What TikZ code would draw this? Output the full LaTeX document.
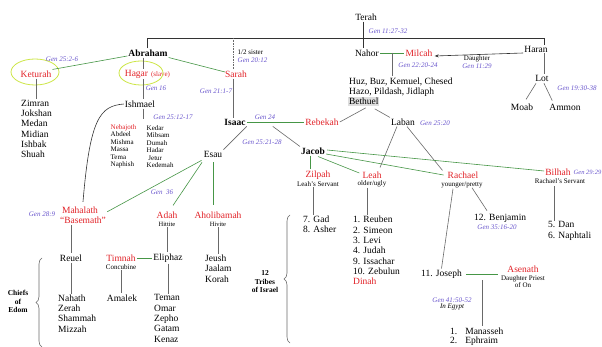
\documentclass[tikz,border=0pt]{standalone}
\usepackage{fontspec}
\setmainfont{Liberation Serif}
\usetikzlibrary{calc,decorations.pathreplacing,arrows.meta}
\definecolor{nred}{RGB}{226,34,40}
\definecolor{gpur}{RGB}{105,85,205}
\definecolor{lgreen}{RGB}{70,150,70}
\definecolor{lgray}{RGB}{105,105,105}
\definecolor{hyel}{RGB}{205,230,70}
\begin{document}
\begin{tikzpicture}[x=1pt,y=-1pt,
 nm/.style={font=\fontsize{9.5}{10.3}\selectfont, inner sep=1pt},
 bnm/.style={font=\fontsize{9.5}{10.3}\selectfont\bfseries, inner sep=1pt},
 rnm/.style={nm, text=nred},
 gen/.style={font=\fontsize{7}{7.5}\selectfont\itshape, text=gpur, inner sep=0.5pt},
 sm/.style={font=\fontsize{7}{7.5}\selectfont, inner sep=0.5pt},
 lst/.style={nm, align=left, anchor=west},
 slst/.style={sm, align=left, anchor=west},
 gl/.style={draw=lgreen, line width=0.6pt},
 gy/.style={draw=lgray, line width=0.6pt},
 bk/.style={draw=black!80, line width=0.6pt},
 brc/.style={draw=lgray, line width=0.6pt, decorate, decoration={brace, amplitude=6pt}},
 hl/.style={draw=hyel, line width=0.8pt},
 lbl/.style={font=\fontsize{7.5}{8.5}\selectfont\bfseries, align=center, inner sep=0.5pt}
]
\useasboundingbox (0,0) rectangle (602,347);
\fill[white] (0,0) rectangle (602,347);

% ---------- top generation
\node[nm] (terah) at (366,17) {Terah};
\node[gen, anchor=west] (g1) at (368,31) {Gen 11:27-32};
\node[bnm] (abr) at (148,53) {Abraham};
\node[nm] (nahor) at (367,53) {Nahor};
\node[rnm] (milcah) at (419,53) {Milcah};
\node[nm] (haran) at (536,49) {Haran};
\coordinate (tl) at (147,38);
\coordinate (tr) at (544,38);
\coordinate (sd) at (233,38);
\draw[bk] (abr.north -| tl) -- (tl) -- (tr) -- (haran.north -| tr);
\draw[bk] ($(terah.south)+(-3,0)$) coordinate (tv) -- (tv |- nahor.north);

% ---------- Abraham's wives
\node[rnm] (ket) at (36,74) {Keturah};
\node[rnm] (hagar) at (136.5,74) {Hagar};
\node[sm, text=nred, anchor=west] (slave) at ($(hagar.east)+(1,1)$) {(slave)};
\node[rnm] (sarah) at (236,74) {Sarah};
\draw[hl] (35,72) ellipse [x radius=24pt, y radius=13pt];
\draw[hl] (141,73) ellipse [x radius=22pt, y radius=12pt];
\node[gen] (g2) at (62,59) {Gen 25:2-6};
\node[gen] (g16) at (156,88) {Gen 16};
\node[sm, anchor=west] (half) at (237,52) {1/2 sister};
\node[gen, anchor=west] (g2012) at (237,60) {Gen 20:12};
\node[gen] (g21) at (216,91) {Gen 21:1-7};
\draw[gl] ($(abr.west)+(0,3)$) -- (ket.north east);
\draw[gl] (abr.south east) -- ($(sarah.west)+(1,-2)$);
\draw[gy, densely dotted] (sd) -- (sd |- sarah.north);

% ---------- Keturah's sons
\node[lst] (zim) at (20,129) {Zimran\\Jokshan\\Medan\\Midian\\Ishbak\\Shuah};
\draw[gy] (ket.south) -- (ket.south |- zim.north);

% ---------- Ishmael
\node[nm] (ish) at (140,104) {Ishmael};
\draw[gy] ($(abr.south)+(-5,0)$) coordinate (av) -- (av |- hagar.north);
\draw[gy] (av |- hagar.south) -- (av |- ish.north);
\draw[gy] (av |- ish.south) -- ++(0,10);
\node[gen] (g2512) at (173,117) {Gen 25:12-17};
\node[slst] (ishs1) at (110,146.5) {{\color{nred}Nebajoth}\\Abdeel\\Mishma\\Massa\\Tema\\Naphish};
\node[slst] (ishs2) at (146,146.5) {Kedar\\Mibsam\\Dumah\\Hadar\\\ Jetur\\Kedemah};

% ---------- Mahalath
\node[nm, text=nred, align=center] (mah) at (80,215.5) {Mahalath\\\hspace*{6pt}“Basemath”};
\node[gen] (g289) at (42,214) {Gen 28:9};
\draw[bk] (ish.west) .. controls (100,106) and (90,118) .. ($(mah.north)+(3,-4)$);

% ---------- Isaac
\node[bnm] (isaac) at (235,122) {Isaac};
\node[rnm] (reb) at (322,122) {Rebekah};
\node[gen] (g24) at (265,117) {Gen 24};
\draw[gy] (sd |- sarah.south) -- (sd |- isaac.north);
\draw[gl] (isaac.east) -- (reb.west);
\node[nm] (esau) at (213,154) {Esau};
\node[bnm] (jacob) at (313,151) {Jacob};
\node[gen] (g2521) at (262,142) {Gen 25:21-28};
\draw[gy] (isaac.south east) -- (esau.north east);
\draw[gy] ($(isaac.south east)+(26,0)$) -- (jacob.north west);

% ---------- Nahor's line
\node[lst] (huz) at (348,87) {Huz, Buz, Kemuel, Chesed\\Hazo, Pildash, Jidlaph};
\node[nm, anchor=west, fill=black!13, inner sep=0.8pt] (bet) at (348,101.5) {Bethuel};
\node[gen] (g2220) at (418,65) {Gen 22:20-24};
\draw[gl] (nahor.east) -- (milcah.west);
\coordinate (nm) at ($(nahor.east)!0.5!(milcah.west)$);
\draw[gy] (nm) -- (nm |- huz.north);
\draw[bk, -{Stealth[length=4pt,width=3pt]}] ($(haran.west)+(0,4)$) -- ($(milcah.east)+(1,3)$);
\node[sm] (dau) at (477,59) {Daughter};
\node[gen] (g1129) at (477,66) {Gen 11:29};
\node[nm] (lot) at (542,78) {Lot};
\node[nm] (moab) at (522,107) {Moab};
\node[nm] (ammon) at (565,107) {Ammon};
\node[gen] (g1930) at (577,88) {Gen 19:30-38};
\draw[gy] (tr |- haran.south) -- (tr |- lot.north);
\draw[gy] ($(lot.south)+(-6,1)$) -- ($(moab.north)+(4,-3)$);
\draw[gy] ($(lot.south)+(2,1)$) -- ($(ammon.north west)+(4,-2)$);
\node[nm] (laban) at (403,122) {Laban};
\node[gen] (g2520) at (435,123) {Gen 25:20};
\draw[gy] ($(bet.south)+(2,2)$) -- (reb.east);
\draw[gy] ($(bet.south)+(11,3)$) -- (laban.north west);

% ---------- Jacob's wives
\node[rnm] (zil) at (318,175) {Zilpah};
\node[sm] (lsv) at (318,184) {Leah's Servant};
\node[rnm] (leah) at (372,175) {Leah};
\node[sm] (oug) at (372,184) {older/ugly};
\node[rnm] (rach) at (463,175) {Rachael};
\node[sm] (ysp) at (462,185) {younger/pretty};
\node[rnm] (bil) at (558,172) {Bilhah};
\node[gen, anchor=west, font=\fontsize{6.5}{7}\selectfont\itshape] (g2929) at (573,172) {Gen 29:29};
\node[sm] (rsv) at (560,181) {Rachael's Servant};
\draw[gy] ($(laban.south)+(-6,0)$) -- ($(leah.north)+(8,-3)$);
\draw[gy] ($(laban.south)+(4,0)$) -- ($(rach.north west)+(-4,0)$);
\draw[gl] ($(jacob.east)+(1,-1)$) -- ($(bil.west)+(0,-1)$);
\draw[gl] ($(jacob.east)+(0,3)$) -- ($(rach.west)+(-3,0)$);
\draw[gl] ($(jacob.south east)+(-8,1)$) -- ($(leah.west)+(-2,-2)$);
\draw[gl] ($(jacob.south)+(-3,0)$) coordinate (jz) -- (jz |- zil.north);

% ---------- 12 tribes
\node[lst] (gad) at (302,224.5) {7. Gad\\8. Asher};
\node[lst] (reu) at (352,250.5) {1. Reuben\\2. Simeon\\3. Levi\\4. Judah\\9. Issachar\\10. Zebulun\\{\color{nred}Dinah}};
\node[lst] (dan) at (547,231) {5. Dan\\6. Naphtali};
\node[nm, anchor=west] (ben) at (473,218) {12. Benjamin};
\node[gen] (g3516) at (497,227) {Gen 35:16-20};
\node[nm, anchor=west] (jos) at (420,274) {11. Joseph};
\draw[gy] ($(lsv.south)+(-5,0)$) coordinate (lz) -- (lz |- gad.north);
\draw[gy] ($(oug.south)+(-5,0)$) coordinate (lo) -- (lo |- reu.north);
\draw[gy] ($(rsv.south)+(-6,2)$) coordinate (rb) -- (rb |- dan.north);
\draw[gy] ($(ysp.south)+(-9,0)$) -- (jos.north);
\draw[gy] ($(ysp.south)+(10,-1)$) -- ($(ben.north west)+(14,-2)$);
\draw[brc] (290,343) -- (290,215);
\node[lbl] (tribes) at (265,282) {12\\Tribes\\of Israel};

% ---------- Joseph
\node[rnm] (asn) at (523,269) {Asenath};
\node[sm, align=center, font=\fontsize{7}{7}\selectfont] (dpo) at (523,281.5) {Daughter Priest\\of On};
\coordinate (ja) at ($(jos.east)+(3,0)$);
\coordinate (jb) at ($(dpo.west |- jos.east)+(-2,0)$);
\draw[gl] (ja) -- (jb);
\coordinate (jm) at ($(ja)!0.5!(jb)$);
\node[gen] (g4150) at (452,300) {Gen 41:50-52};
\node[sm, font=\fontsize{7}{7.5}\selectfont\itshape] (egy) at (452,307) {In Egypt};
\node[lst, font=\fontsize{9.5}{9.5}\selectfont] (man) at (449,336.5) {1.\hspace{8pt}Manasseh\\2.\hspace{8pt}Ephraim};
\draw[gy] ($(jm)+(0,6)$) -- (jm |- man.north);

% ---------- Esau's wives and sons
\node[rnm] (adah) at (167,215) {Adah};
\node[sm, font=\fontsize{6.5}{7}\selectfont] (hitt) at (167,224) {Hittite};
\node[rnm] (ahol) at (218,215) {Aholibamah};
\node[sm, font=\fontsize{6.5}{7}\selectfont] (hiv) at (218,224) {Hivite};
\node[gen] (g36) at (162,192) {Gen\ \ 36};
\draw[gl] ($(esau.south west)+(-1,2)$) -- ($(mah.north east)+(0,6)$);
\draw[gl] ($(esau.south)+(-11,4)$) -- ($(adah.north)+(6,-5)$);
\draw[gl] ($(esau.south)+(0,4)$) coordinate (ea) -- ($(ea |- ahol.north)+(0,-5)$);
\node[nm] (reuel) at (71,258) {Reuel};
\node[rnm] (tim) at (121,258) {Timnah};
\node[sm] (conc) at (121,267) {Concubine};
\node[nm] (eli) at (168,258) {Eliphaz};
\node[lst] (jeu) at (204,268.5) {Jeush\\Jaalam\\Korah};
\node[lst] (nah) at (57,313.5) {Nahath\\Zerah\\Shammah\\Mizzah};
\node[nm] (ama) at (122,298) {Amalek};
\node[lst] (tem) at (153,318.5) {Teman\\Omar\\Zepho\\Gatam\\Kenaz};
\draw[gy] (hitt.south) -- (hitt.south |- eli.north);
\draw[gy] (hiv.south) -- (hiv.south |- jeu.north);
\draw[gl] (tim.east) -- (eli.west);
\draw[gy] (conc.south) -- (conc.south |- ama.north);
\draw[gy] (eli.south) -- (eli.south |- tem.north);
\draw[gy] (reuel.north |- mah.south) -- (reuel.north);
\draw[gy] (reuel.south) -- (reuel.south |- nah.north);
\draw[brc] (42,347) -- (42,258);
\node[lbl] (chiefs) at (18,301.5) {Chiefs\\of\\Edom};
\end{tikzpicture}
\end{document}
